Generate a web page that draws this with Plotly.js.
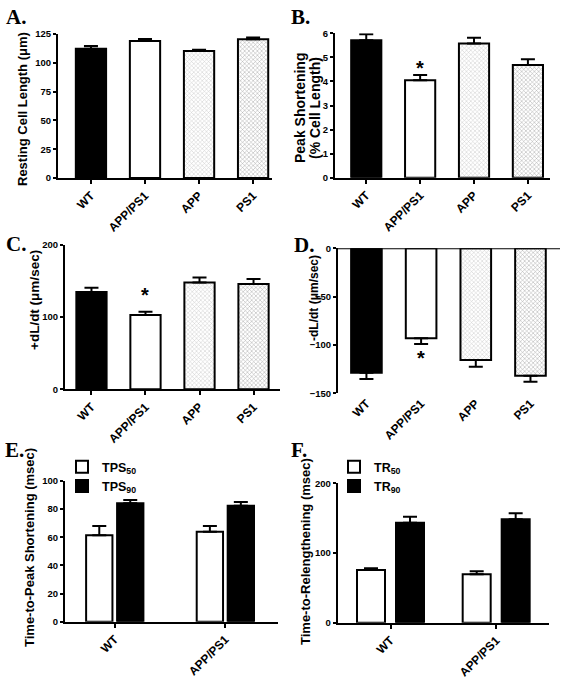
<!DOCTYPE html>
<html>
<head>
<meta charset="utf-8">
<script src="https://cdn.plot.ly/plotly-3.0.1.min.js"></script>
<style>html,body{margin:0;padding:0;background:#fff;}#chart{width:563px;height:677px;}</style>
</head>
<body>
<div id="chart"></div>
<script>
// ---- data ----
const groups = ['WT', 'APP/PS1', 'APP', 'PS1'];
const restingLen = [112.2, 118.9, 110.2, 120.4];
const restingLenErr = [2.4, 1.7, 1.2, 1.6];
const peakShort = [5.71, 4.05, 5.58, 4.68];
const peakShortErr = [0.25, 0.22, 0.24, 0.24];
const plusDLdt = [135, 103, 148, 146];
const plusDLdtErr = [5.7, 4.5, 6.8, 7.0];
const minusDLdt = [-128.7, -93.1, -115.5, -131.8];
const minusDLdtErr = [6.5, 5.9, 7.0, 6.2];
const groups2 = ['WT', 'APP/PS1'];
const tps50 = [61.4, 64.0];
const tps50Err = [6.6, 4.0];
const tps90 = [84.1, 82.4];
const tps90Err = [2.4, 2.6];
const tr50 = [75.6, 69.4];
const tr50Err = [2.4, 4.3];
const tr90 = [143.5, 148.3];
const tr90Err = [8.5, 8.7];
const significant = [false, true, false, false];

// ---- styles ----
const FONT = 'Liberation Sans, Arial, sans-serif';
const barColors = ['#000000', '#ffffff', '#c9c9c9', '#a6a6a6'];
const pattern = {shape: ['', '', 'x', 'x'], size: 3, solidity: 0.3,
  fgcolor: ['#000000', '#ffffff', '#a8a8a8', '#868686'], bgcolor: ['#000000', '#ffffff', '#d8d8d8', '#b4b4b4']};
const zeros = a => a.map(() => 0);

function quadBar(y, err, xa, ya, down) {
  return {
    type: 'bar', x: groups, y: y, xaxis: xa, yaxis: ya, width: 0.56,
    marker: {color: barColors, pattern: pattern, line: {color: '#000', width: 2}},
    error_y: down
      ? {type: 'data', symmetric: false, array: zeros(err), arrayminus: err, color: '#000', thickness: 2, width: 7}
      : {type: 'data', symmetric: false, array: err, arrayminus: zeros(err), color: '#000', thickness: 2, width: 7},
    showlegend: false
  };
}
function pairBar(y, err, xa, ya, name, color, offset, width, legend) {
  return {
    type: 'bar', x: groups2, y: y, xaxis: xa, yaxis: ya, name: name,
    width: width, offset: offset,
    marker: {color: color, line: {color: '#000', width: 2}},
    error_y: {type: 'data', symmetric: false, array: err, arrayminus: zeros(err), color: '#000', thickness: 2, width: 7},
    showlegend: true, legend: legend
  };
}

const data = [
  quadBar(restingLen, restingLenErr, 'x', 'y', false),
  quadBar(peakShort, peakShortErr, 'x2', 'y2', false),
  quadBar(plusDLdt, plusDLdtErr, 'x3', 'y3', false),
  quadBar(minusDLdt, minusDLdtErr, 'x4', 'y4', true),
  pairBar(tps50, tps50Err, 'x5', 'y5', 'TPS<sub>50</sub>', '#ffffff', -0.259, 0.238, 'legend'),
  pairBar(tps90, tps90Err, 'x5', 'y5', 'TPS<sub>90</sub>', '#000000', 0.021, 0.238, 'legend'),
  pairBar(tr50, tr50Err, 'x6', 'y6', 'TR<sub>50</sub>', '#ffffff', -0.317, 0.265, 'legend2'),
  pairBar(tr90, tr90Err, 'x6', 'y6', 'TR<sub>90</sub>', '#000000', 0.052, 0.265, 'legend2')
];

const W = 563, H = 677;
const px = (a, b) => [a / W, b / W];
const py = (top, bottom) => [1 - bottom / H, 1 - top / H];

function xAx(dom, anchor, range, onTop) {
  return {
    domain: dom, anchor: anchor, range: range, type: 'category',
    showline: !onTop, linecolor: '#000', linewidth: 2,
    ticks: onTop ? '' : 'outside', ticklen: 4, tickwidth: 2, tickcolor: '#000',
    tickangle: -45, tickfont: {family: FONT, size: 12, color: '#000', weight: 'bold'},
    showgrid: false, zeroline: false, fixedrange: true
  };
}
function yAx(dom, anchor, range, dtick) {
  return {
    domain: dom, anchor: anchor, range: range, dtick: dtick,
    showline: true, linecolor: '#000', linewidth: 2,
    ticks: 'outside', ticklen: 3, tickwidth: 2, tickcolor: '#000',
    tickfont: {family: FONT, size: 9.5, color: '#000', weight: 'bold'},
    showgrid: false, zeroline: false, fixedrange: true
  };
}

const anns = [];
// significance stars, placed from the data
significant.forEach((s, i) => {
  if (!s) return;
  const f = {family: FONT, size: 20, color: '#000', weight: 'bold'};
  anns.push({xref: 'x2', yref: 'y2', x: groups[i], y: peakShort[i] + peakShortErr[i], text: '*', showarrow: false,
    yanchor: 'bottom', yshift: -6, font: f});
  anns.push({xref: 'x3', yref: 'y3', x: groups[i], y: plusDLdt[i] + plusDLdtErr[i], text: '*', showarrow: false,
    yanchor: 'bottom', yshift: 4, font: f});
  anns.push({xref: 'x4', yref: 'y4', x: groups[i], y: minusDLdt[i] - minusDLdtErr[i], text: '*', showarrow: false,
    yanchor: 'top', yshift: -1, font: f});
});
// panel letters
const letters = [['A.', 4, 3], ['B.', 289, 3], ['C.', 4, 230], ['D.', 292, 231], ['E.', 3, 436], ['F.', 289, 436]];
letters.forEach(l => anns.push({xref: 'paper', yref: 'paper', x: l[1] / W, y: 1 - l[2] / H, xanchor: 'left', yanchor: 'top',
  text: l[0], showarrow: false, font: {family: 'Liberation Serif, Times New Roman, serif', size: 21, color: '#000', weight: 'bold'}}));
// y-axis titles
const yTitles = [
  ['Resting Cell Length (μm)', 23, 109, 13],
  ['Peak Shortening', 300, 108, 14],
  ['(% Cell Length)', 315, 108, 14],
  ['+dL/dt (μm/sec)', 34, 300, 13.5],
  ['-dL/dt (μm/sec)', 314, 298, 12],
  ['Time-to-Peak Shortening (msec)', 29, 548, 13],
  ['Time-to-Relengthening (msec)', 305, 552, 13]
];
yTitles.forEach(t => anns.push({xref: 'paper', yref: 'paper', x: t[1] / W, y: 1 - t[2] / H, xanchor: 'center', yanchor: 'middle',
  text: t[0], textangle: -90, showarrow: false, font: {family: FONT, size: t[3], color: '#000', weight: 'bold'}}));

const legFont = {family: FONT, size: 12.5, color: '#000', weight: 'bold'};
const layout = {
  width: W, height: H, margin: {l: 0, r: 0, t: 0, b: 0},
  paper_bgcolor: '#fff', plot_bgcolor: 'rgba(0,0,0,0)',
  barmode: 'overlay', font: {family: FONT, color: '#000'},
  xaxis: xAx(px(58, 272), 'y', [-0.61, 3.35]),
  yaxis: yAx(py(34, 178), 'x', [0, 125], 25),
  xaxis2: xAx(px(335, 550), 'y2', [-0.58, 3.41]),
  yaxis2: yAx(py(33.3, 177.7), 'x2', [0, 6], 1),
  xaxis3: xAx(px(65, 280), 'y3', [-0.49, 3.49]),
  yaxis3: yAx(py(245, 389.3), 'x3', [0, 200], 100),
  xaxis4: xAx(px(338, 560), 'y4', [-0.52, 3.54], true),
  yaxis4: yAx(py(248.3, 393.3), 'x4', [-150, 0], 50),
  xaxis5: xAx(px(65, 278), 'y5', [-0.45, 1.476]),
  yaxis5: yAx(py(481, 621.7), 'x5', [0, 100], 20),
  xaxis6: xAx(px(337.7, 549), 'y6', [-0.5, 1.5]),
  yaxis6: yAx(py(483.3, 622.7), 'x6', [0, 200], 100),
  legend: {x: 62 / W, y: 1 - 452 / H, xanchor: 'left', yanchor: 'top', bgcolor: 'rgba(0,0,0,0)',
    font: legFont, tracegroupgap: 0, itemwidth: 30},
  legend2: {x: 334 / W, y: 1 - 452 / H, xanchor: 'left', yanchor: 'top', bgcolor: 'rgba(0,0,0,0)',
    font: legFont, tracegroupgap: 0, itemwidth: 30},
  annotations: anns,
  shapes: [{type: 'line', xref: 'x4 domain', yref: 'y4', x0: 0, x1: 1, y0: 0, y1: 0, line: {color: '#000', width: 2}}]
};

Plotly.newPlot('chart', data, layout, {displayModeBar: false, staticPlot: true});
</script>
</body>
</html>
